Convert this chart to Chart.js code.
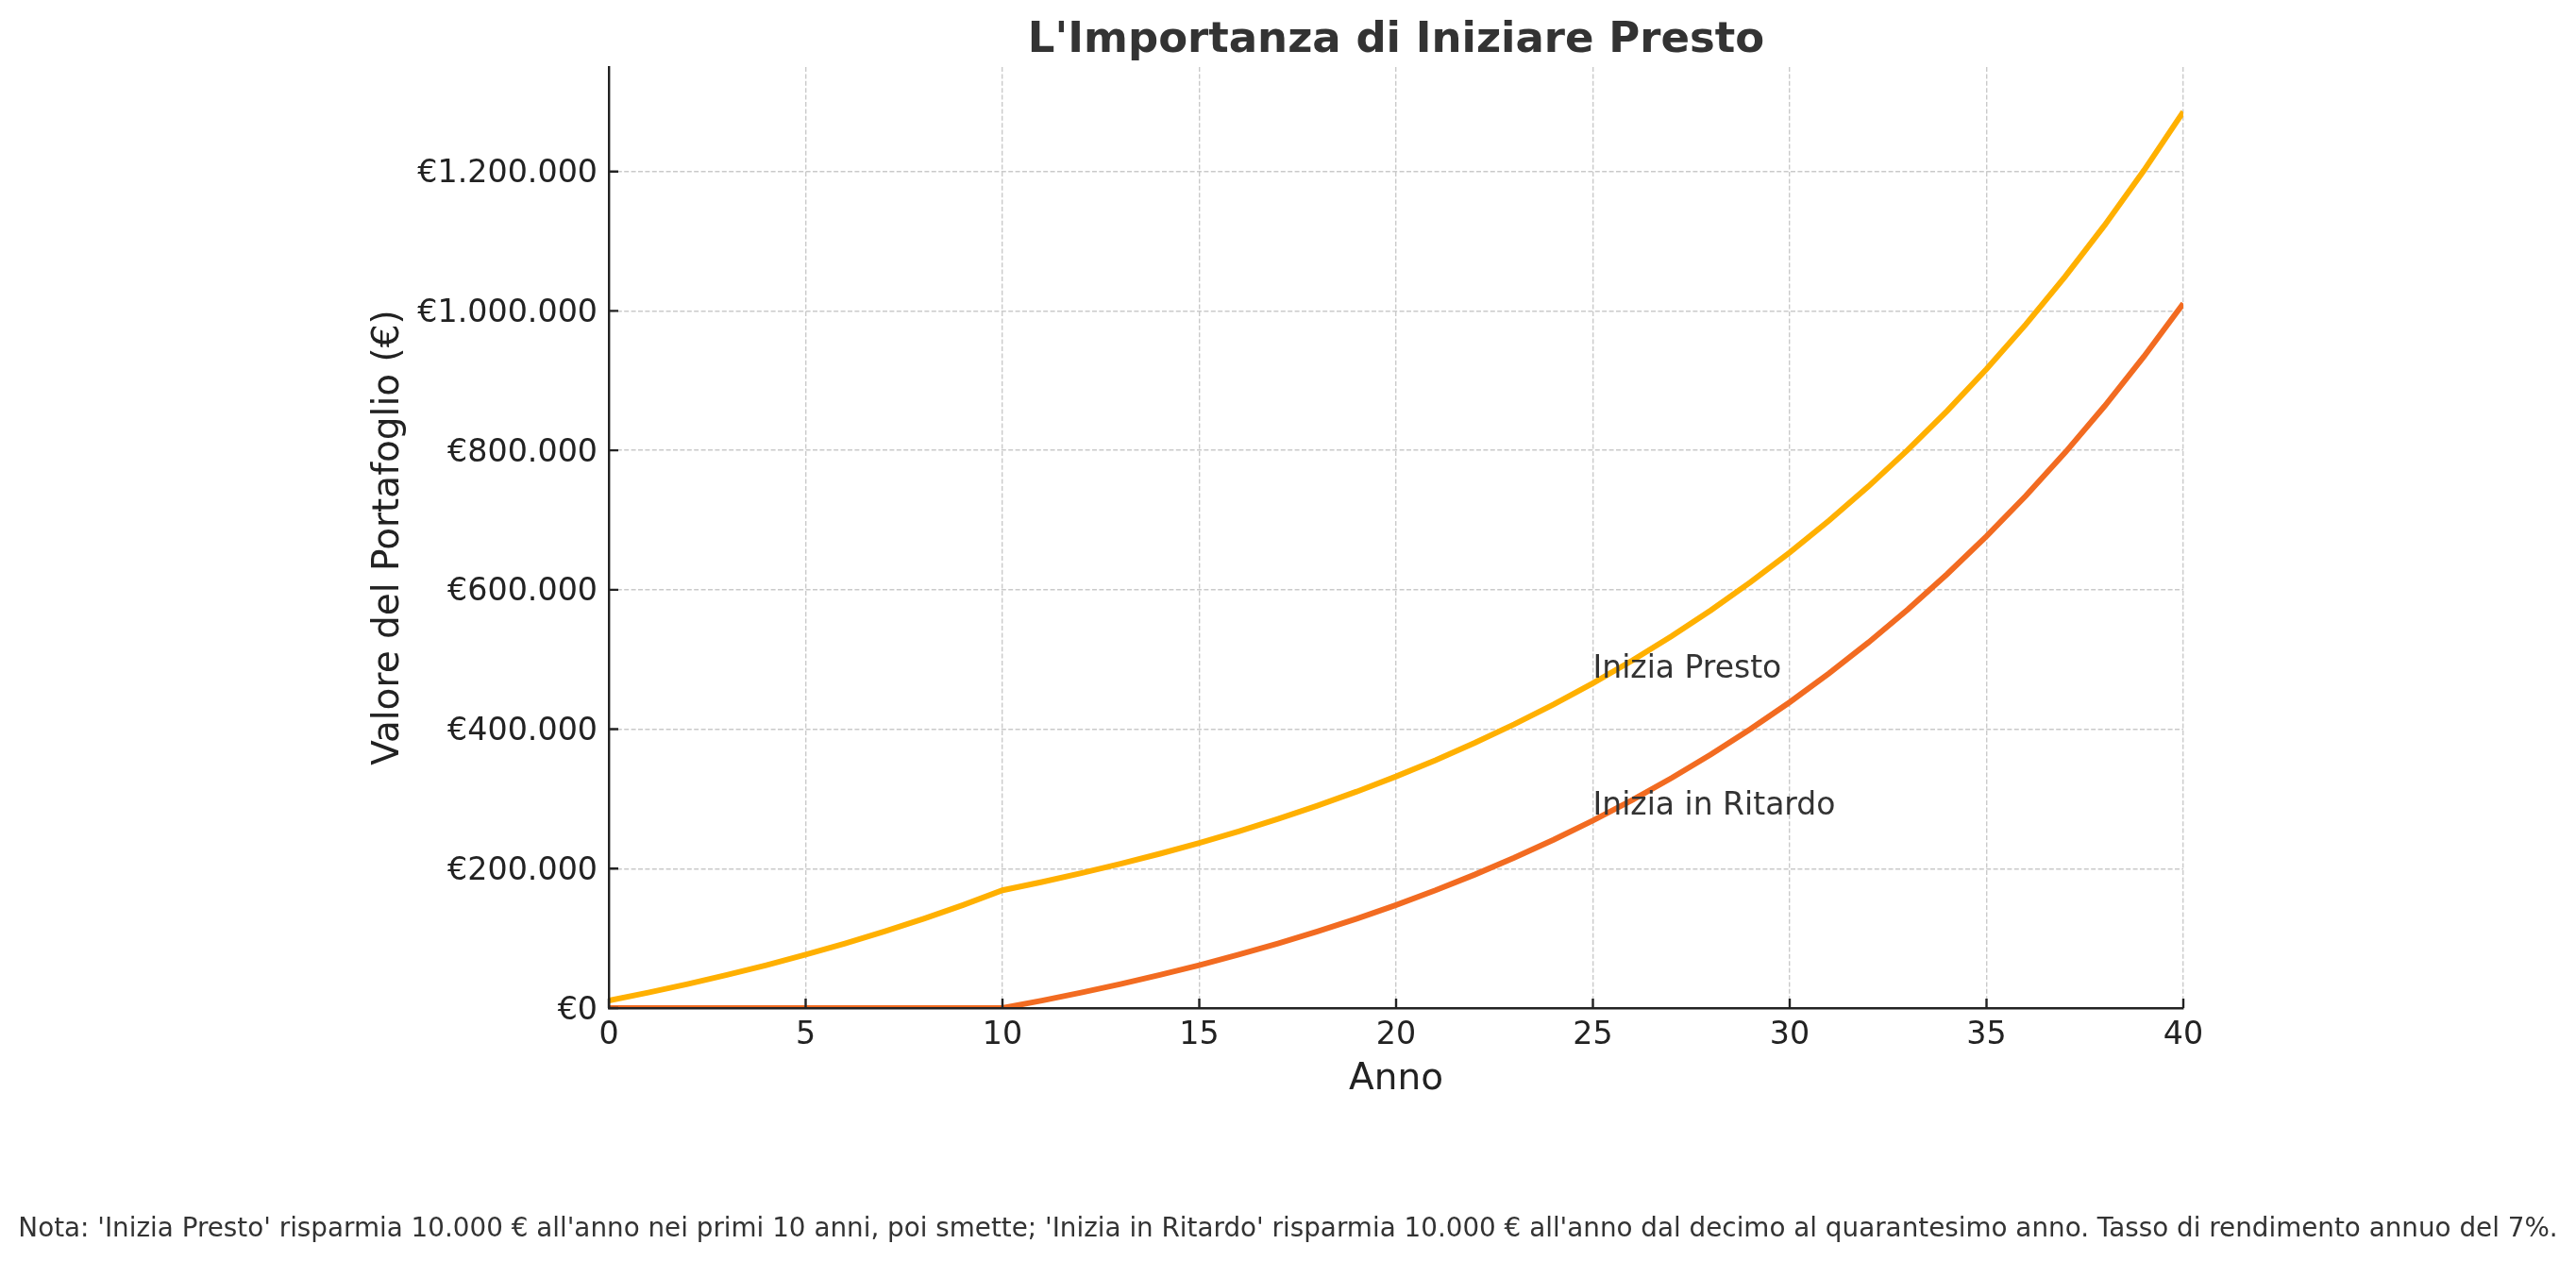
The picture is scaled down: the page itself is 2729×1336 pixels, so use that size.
<!DOCTYPE html>
<html>
<head>
<meta charset="utf-8">
<script src="https://cdn.jsdelivr.net/npm/chart.js@4/dist/chart.umd.min.js"></script>
<style>
html,body{margin:0;padding:0;background:#ffffff;overflow:hidden}
canvas{display:block}
</style>
</head>
<body>
<canvas id="c" width="2729" height="1336" style="width:2729px;height:1336px"></canvas>
<script>
// ---- data ----
const years = [0,1,2,3,4,5,6,7,8,9,10,11,12,13,14,15,16,17,18,19,20,21,22,23,24,25,26,27,28,29,30,31,32,33,34,35,36,37,38,39,40];
const iniziaPresto = [10700,22149,34399,47507,61533,76540,92598,109780,128164,147836,168885,180706,193356,206891,221373,236869,253450,271192,290175,310487,332221,355477,380360,406985,435474,465958,498575,533475,570818,610775,653530,699277,748226,800602,856644,916609,980772,1049426,1122886,1201488,1285592];
const iniziaRitardo = [0,0,0,0,0,0,0,0,0,0,0,10700,22149,34399,47507,61533,76540,92598,109780,128164,147836,168885,191406,215505,241290,268880,298402,329990,363790,399955,438652,480057,524361,571767,622490,676765,734838,796977,863465,934608,1010730];
const xTickValues = [0,5,10,15,20,25,30,35,40];
const yTickValues = [0,200000,400000,600000,800000,1000000,1200000];
const seriesNames = ["Inizia Presto","Inizia in Ritardo"];
const annotationYear = 25;
const titleText = "L'Importanza di Iniziare Presto";
const xAxisTitle = "Anno";
const yAxisTitle = "Valore del Portafoglio (€)";
const footnoteText = "Nota: 'Inizia Presto' risparmia 10.000 € all'anno nei primi 10 anni, poi smette; 'Inizia in Ritardo' risparmia 10.000 € all'anno dal decimo al quarantesimo anno. Tasso di rendimento annuo del 7%.";

const FONT = "DejaVu Sans";
function formatEuro(v){
  return '€' + String(Math.round(v)).replace(/\B(?=(\d{3})+(?!\d))/g, '.');
}

const bgPlugin = {
  id:'bg',
  beforeDraw(chart){
    const c = chart.ctx; c.save(); c.fillStyle='#ffffff';
    c.fillRect(0,0,chart.width,chart.height); c.restore();
  }
};

const inwardTicks = {
  id:'inwardTicks',
  afterDraw(chart){
    const {ctx, chartArea:a, scales:{x,y}} = chart;
    ctx.save();
    ctx.strokeStyle = '#222222';
    ctx.lineWidth = 2.4;
    ctx.beginPath();
    xTickValues.forEach(v=>{const px=x.getPixelForValue(v); ctx.moveTo(px,a.bottom); ctx.lineTo(px,a.bottom-10);});
    yTickValues.forEach(v=>{const py=y.getPixelForValue(v); ctx.moveTo(a.left,py); ctx.lineTo(a.left+10,py);});
    ctx.stroke();
    ctx.restore();
  }
};

const labelPlugin = {
  id:'seriesLabels',
  afterDatasetsDraw(chart){
    const {ctx, scales:{x,y}} = chart;
    const i = years.indexOf(annotationYear);
    const size = 33;
    ctx.save();
    ctx.font = size + 'px "' + FONT + '"';
    ctx.fillStyle = '#333333';
    ctx.textAlign = 'left';
    ctx.textBaseline = 'alphabetic';
    [[seriesNames[0], iniziaPresto[i]], [seriesNames[1], iniziaRitardo[i]]].forEach(([t,v])=>{
      ctx.fillText(t, x.getPixelForValue(annotationYear), y.getPixelForValue(v) - size*0.19);
    });
    ctx.restore();
  }
};

const footnotePlugin = {
  id:'footnote',
  afterDraw(chart){
    const ctx = chart.ctx;
    ctx.save();
    ctx.font = '27.8px "' + FONT + '"';
    ctx.fillStyle = '#333333';
    ctx.textAlign = 'center';
    ctx.textBaseline = 'alphabetic';
    ctx.fillText(footnoteText, chart.width/2, 1310);
    ctx.restore();
  }
};

new Chart(document.getElementById('c').getContext('2d'), {
  type:'line',
  data:{
    datasets:[
      {label:seriesNames[0], data:years.map((t,i)=>({x:t,y:iniziaPresto[i]})), borderColor:'#FFB000', backgroundColor:'#FFB000', borderWidth:6, pointRadius:0, tension:0, fill:false},
      {label:seriesNames[1], data:years.map((t,i)=>({x:t,y:iniziaRitardo[i]})), borderColor:'#F26B21', backgroundColor:'#F26B21', borderWidth:6, pointRadius:0, tension:0, fill:false}
    ]
  },
  options:{
    responsive:false,
    animation:false,
    devicePixelRatio:1,
    events:[],
    layout:{padding:{left:0,right:416,top:0,bottom:0}},
    plugins:{
      legend:{display:false},
      tooltip:{enabled:false},
      title:{display:true, text:titleText, fullSize:false, color:'#333333',
        font:{family:FONT, size:45, weight:'bold', lineHeight:1.2}, padding:{top:16,bottom:1}}
    },
    scales:{
      x:{
        type:'linear', position:'bottom', min:0, max:40,
        afterBuildTicks:s=>{s.ticks = xTickValues.map(v=>({value:v}));},
        afterFit:s=>{s.height = 268;},
        ticks:{padding:9, color:'#222222', autoSkip:false, maxRotation:0, font:{family:FONT, size:33.3}},
        grid:{color:'#cacaca', lineWidth:1.4, drawTicks:false},
        border:{display:true, color:'#222222', width:2.4, dash:[5,2.4], z:1},
        title:{display:true, text:xAxisTitle, color:'#222222', font:{family:FONT, size:39, lineHeight:1.2}, padding:{top:0,bottom:169.1}}
      },
      y:{
        type:'linear', position:'left', min:0, max:1349876,
        afterBuildTicks:s=>{s.ticks = yTickValues.map(v=>({value:v}));},
        afterFit:s=>{s.width = 645;},
        ticks:{padding:12, labelOffset:3, color:'#222222', font:{family:FONT, size:33.3}, callback:v=>formatEuro(v)},
        grid:{color:'#cacaca', lineWidth:1.4, drawTicks:false},
        border:{display:true, color:'#222222', width:2.4, dash:[5,2.4], z:1},
        title:{display:true, text:yAxisTitle, color:'#222222', font:{family:FONT, size:39, lineHeight:1.2}, padding:{top:388.2,bottom:0}}
      }
    }
  },
  plugins:[bgPlugin, labelPlugin, inwardTicks, footnotePlugin]
});
</script>
</body>
</html>
